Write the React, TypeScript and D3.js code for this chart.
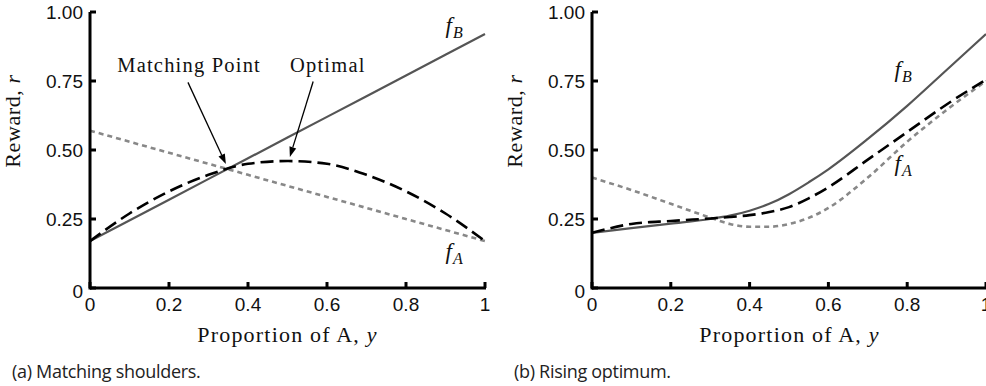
import * as d3 from 'd3';

// ---- data ----
const leftX = [0, 0.2, 0.4, 0.6, 0.8, 1];
const leftFA = [0.57, 0.49, 0.41, 0.33, 0.25, 0.17];
const leftFB = [0.17, 0.32, 0.47, 0.62, 0.77, 0.92];

const leftAvgX = [0, 0.1, 0.2, 0.3, 0.4, 0.5, 0.6, 0.7, 0.8, 0.9, 1];
const leftAvg = [0.17, 0.27, 0.35, 0.41, 0.45, 0.46, 0.45, 0.41, 0.35, 0.27, 0.17];

const rightX = [0, 0.1, 0.2, 0.3, 0.35, 0.4, 0.45, 0.5, 0.55, 0.6, 0.7, 0.8, 0.9, 1];
const rightFA = [0.4, 0.355, 0.305, 0.255, 0.232, 0.222, 0.222, 0.232, 0.254, 0.29, 0.4, 0.53, 0.645, 0.75];
const rightFB = [0.2, 0.217, 0.233, 0.25, 0.262, 0.28, 0.305, 0.34, 0.383, 0.43, 0.54, 0.66, 0.79, 0.92];
const rightAvg = [0.2, 0.232, 0.243, 0.252, 0.257, 0.264, 0.275, 0.293, 0.325, 0.365, 0.465, 0.565, 0.665, 0.755];

const xTicks = [0, 0.2, 0.4, 0.6, 0.8, 1];
const xTickLabels = ['0', '0.2', '0.4', '0.6', '0.8', '1'];
const yTicks = [0, 0.25, 0.5, 0.75, 1];
const yTickLabels = ['0', '0.25', '0.50', '0.75', '1.00'];

const SERIF = '"Liberation Serif", "Times New Roman", serif';
const SANS = '"Liberation Sans", Arial, sans-serif';

const Panel = ({ x0, x1, caption, series, labels, arrows }: any) => {
    const x = d3.scaleLinear().domain([0, 1]).range([x0, x1]);
    const y = d3.scaleLinear().domain([0, 1]).range([288, 12]);
    const line = (xs: number[], ys: number[]) =>
        d3.line<number>().x((d, i) => x(xs[i])).y((d) => y(d)).curve(d3.curveMonotoneX)(ys) as string;

    return (
        <g>
            {series.map((s: any, i: number) => (
                <path key={i} d={line(s.xs, s.ys)} fill="none" stroke={s.color}
                    strokeWidth={s.width} strokeDasharray={s.dash} strokeLinecap="butt" />
            ))}
            {/* axes */}
            <line x1={x0} x2={x1 + 1} y1={y(0)} y2={y(0)} stroke="#000" strokeWidth={3} />
            <line x1={x0} x2={x0} y1={y(0) + 1.5} y2={y(1)} stroke="#000" strokeWidth={3} />
            {xTicks.map((t, i) => (
                <g key={'x' + i}>
                    <line x1={x(t)} x2={x(t)} y1={y(0)} y2={y(0) - 6} stroke="#000" strokeWidth={3} />
                    <text x={x(t)} y={y(0) + 23} textAnchor="middle" fontFamily={SANS} fontSize={19} fill="#111">{xTickLabels[i]}</text>
                </g>
            ))}
            {yTicks.map((t, i) => (
                <g key={'y' + i}>
                    <line x1={x0} x2={x0 + 6} y1={y(t)} y2={y(t)} stroke="#000" strokeWidth={3} />
                    <text x={x0 - 7} y={y(t) + 7 + (t === 0 ? 3 : 0)} textAnchor="end" fontFamily={SANS} fontSize={19} fill="#111">{yTickLabels[i]}</text>
                </g>
            ))}
            {/* axis titles */}
            <text x={(x0 + x0 + 395) / 2} y={342} textAnchor="middle" fontFamily={SERIF} fontSize={22} letterSpacing={1.2} fill="#111">
                Proportion of A, <tspan fontStyle="italic">y</tspan>
            </text>
            <text transform={`translate(${x0 - 70},121) rotate(-90)`} textAnchor="middle" fontFamily={SERIF} fontSize={22} letterSpacing={0.6} fill="#111">
                Reward, <tspan fontStyle="italic">r</tspan>
            </text>
            {/* curve labels */}
            {labels.map((l: any, i: number) => (
                <text key={'l' + i} x={x(l.x)} y={y(l.y)} fontFamily={SERIF} fontSize={23} fill="#111">
                    <tspan fontStyle="italic">f</tspan>
                    <tspan fontStyle="italic" fontSize={16} dy={5} dx={1}>{l.sub}</tspan>
                </text>
            ))}
            {arrows.map((a: any, i: number) => {
                const tx = x(a.tip[0]), ty = y(a.tip[1]);
                const sx = x(a.start[0]), sy = y(a.start[1]);
                const ang = Math.atan2(ty - sy, tx - sx);
                const L = 10, W = 3.5;
                const bx = tx - L * Math.cos(ang), by = ty - L * Math.sin(ang);
                const head = `${tx},${ty} ${bx + W * Math.sin(ang)},${by - W * Math.cos(ang)} ${bx - W * Math.sin(ang)},${by + W * Math.cos(ang)}`;
                return (
                    <g key={'a' + i}>
                        <text x={x(a.text[0])} y={y(a.text[1])} textAnchor="middle" fontFamily={SERIF} fontSize={20.5} letterSpacing={1.2} fill="#111">{a.label}</text>
                        <line x1={sx} y1={sy} x2={bx} y2={by} stroke="#000" strokeWidth={1.3} />
                        <polygon points={head} fill="#000" />
                    </g>
                );
            })}
            <text x={x0 - 78} y={378} fontFamily={'"Open Sans", "Noto Sans", sans-serif'} fontSize={18} letterSpacing={-0.3} fill="#222">{caption}</text>
        </g>
    );
};

const solid = { color: '#555', width: 2.2, dash: undefined };
const dashed = { color: '#000', width: 2.6, dash: '13 6' };
const dotted = { color: '#888', width: 2.6, dash: '5 4' };

export default function App() {
    return (
        <div style={{ position: 'fixed', left: 0, top: 0 }}>
            <svg width={986} height={386} style={{ display: 'block', background: '#fff' }}>
                <Panel
                    x0={90} x1={485}
                    caption="(a) Matching shoulders."
                    series={[
                        { ...dotted, xs: leftX, ys: leftFA },
                        { ...solid, xs: leftX, ys: leftFB },
                        { ...dashed, xs: leftAvgX, ys: leftAvg },
                    ]}
                    labels={[{ x: 0.9, y: 0.925, sub: 'B' }, { x: 0.9, y: 0.105, sub: 'A' }]}
                    arrows={[
                        { label: 'Matching Point', text: [0.251, 0.783], start: [0.248, 0.745], tip: [0.344, 0.449] },
                        { label: 'Optimal', text: [0.602, 0.783], start: [0.565, 0.748], tip: [0.506, 0.475] },
                    ]}
                />
                <Panel
                    x0={592} x1={986}
                    caption="(b) Rising optimum."
                    series={[
                        { ...dotted, xs: rightX, ys: rightFA },
                        { ...solid, xs: rightX, ys: rightFB },
                        { ...dashed, xs: rightX, ys: rightAvg },
                    ]}
                    labels={[{ x: 0.768, y: 0.765, sub: 'B' }, { x: 0.768, y: 0.423, sub: 'A' }]}
                    arrows={[]}
                />
            </svg>
        </div>
    );
}
